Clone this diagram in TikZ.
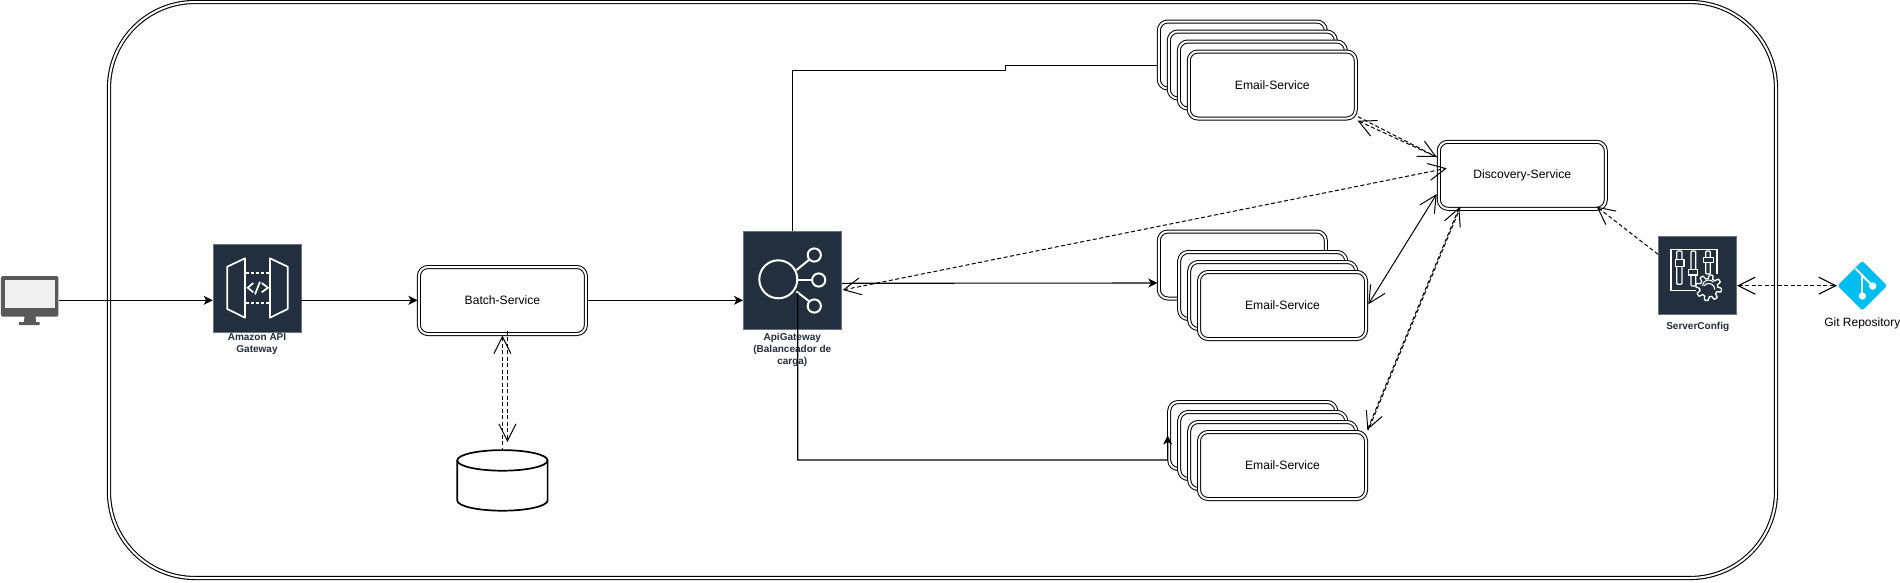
\documentclass[tikz,border=0pt]{standalone}
\usepackage{fontspec}
\setmainfont{Liberation Sans}
\usetikzlibrary{arrows.meta,calc,shapes.geometric}
\definecolor{iconnavy}{RGB}{35,47,62}
\definecolor{iconedge}{RGB}{105,116,128}
\definecolor{gitblue}{RGB}{0,190,242}
\definecolor{screengray}{RGB}{89,89,89}

\def\px{0.02cm}
\tikzset{
  svcbox/.style={draw=black, double, double distance=2*\px, line width=1*\px, fill=white,
    rounded corners=9*\px, minimum width=167*\px, minimum height=67*\px, inner sep=0pt, outer sep=1.5*\px,
    font=\fontsize{6.9}{8.2}\selectfont},
  iconbox/.style={draw=iconedge, line width=0.6*\px, fill=iconnavy, inner sep=0pt},
  iconlabel/.style={text=iconnavy, align=center, inner sep=0pt,
    font=\fontsize{5.7}{6.83}\selectfont\bfseries},
  iconline/.style={draw=white, line width=1.7*\px},
  flow/.style={draw=black, line width=1.1*\px, -{Stealth[length=9*\px,width=9*\px,inset=2.5*\px]}},
  opentip/.tip={Straight Barb[length=17*\px,width=17*\px]},
  openlink/.style={draw=black, line width=1*\px, opentip-opentip},
  dashlink/.style={openlink, dash pattern=on 4*\px off 2.5*\px}
}

\begin{document}
\begin{tikzpicture}[x=\px, y=-\px]

\useasboundingbox (0,0) rectangle (1900,582);
\fill[white] (0,0) rectangle (1900,582);

% ── Outer frame ──────────────────────────────────────────────────────────────
\draw[black, double, double distance=2*\px, line width=1.1*\px, rounded corners=86*\px]
  (109,2) rectangle (1776,578);

% ════════════════════════════════════════════════════════════════════════════
% LEFT SIDE — monitor, API gateway, batch service, store
% ════════════════════════════════════════════════════════════════════════════

% Monitor
\node[fill=screengray, rounded corners=1.5*\px, minimum width=57.5*\px, minimum height=40.5*\px, inner sep=0pt]
  (monitor) at (29.7,296.4) {};
\fill[white!94!black] (5,280) rectangle (54.5,308);
\fill[screengray] (24.5,316) -- (35.5,316) -- (36,322) -- (39.5,322) -- (39.5,325) -- (19,325) -- (19,322) -- (24,322) -- cycle;

% API gateway icon
\node[iconbox, minimum size=88*\px] (apigw) at (257,288) {};
\draw[iconline, line join=round]
  (227.3,266.7) -- (245,258.3) -- (245,317.7) -- (227.3,309) -- cycle;
\draw[iconline, line join=round]
  (287.7,266.7) -- (270,258.3) -- (270,317.7) -- (287.7,309) -- cycle;
\foreach \yy in {272.7,303.3}{
  \draw[iconline, dash pattern=on 3*\px off 2*\px] (246,\yy) -- (269,\yy);
}
\draw[iconline] (253.3,283) -- (247.7,287.7) -- (253.3,292.3);
\draw[iconline] (261.7,283) -- (268,287.7) -- (261.7,292.3);
\draw[iconline] (255,294.3) -- (260,281.7);
\node[iconlabel] (apigwlabel) at (257,344) {Amazon API\\Gateway};

% Batch service and its store
\node[svcbox] (batch) at (502.4,300.5) {Batch-Service};
\node[minimum width=90*\px, minimum height=60.7*\px, inner sep=0pt, outer sep=0pt] (store) at (502.4,480.4) {};
\draw[black, line width=1.7*\px, fill=white]
  (457.2,460.4) -- (457.2,500.4) arc[start angle=180, end angle=0, x radius=45.2, y radius=10.3]
  -- (547.6,460.4) arc[start angle=0, end angle=-180, x radius=45.2, y radius=10.3] -- cycle;
\draw[black, line width=1.7*\px]
  (457.2,460.4) arc[start angle=180, end angle=0, x radius=45.2, y radius=10.3];

% ════════════════════════════════════════════════════════════════════════════
% LOAD BALANCER
% ════════════════════════════════════════════════════════════════════════════
\node[iconbox, minimum size=98*\px] (balancer) at (792.3,280.3) {};
\draw[iconline, line width=2*\px] (778.3,279.3) circle (19);
\draw[iconline, line width=2*\px] (814.3,255) circle (6.6);
\draw[iconline, line width=2*\px] (818.7,280) circle (6.6);
\draw[iconline, line width=2*\px] (814.3,306) circle (6.6);
\draw[iconline, line width=2*\px] (796.5,270) -- (808.8,260);
\draw[iconline, line width=2*\px] (798,280) -- (812,280);
\draw[iconline, line width=2*\px] (796.5,291.5) -- (808.8,301);
\node[iconlabel] (balancerlabel) at (792.3,350) {ApiGateway\\(Balanceador de\\carga)};

% ════════════════════════════════════════════════════════════════════════════
% EMAIL STACKS
% ════════════════════════════════════════════════════════════════════════════
\foreach \i in {0,1,2}{
  \node[svcbox] (mailtop\i) at ({1242.3+10*\i},{55+10*\i}) {};
}
\node[svcbox] (mailtop) at (1272.3,85) {Email-Service};

\node[svcbox] (mailmid0) at (1242.3,265) {};
\node[svcbox] (mailmid1) at (1262.7,285.5) {};
\node[svcbox] (mailmid2) at (1272.7,295.5) {};
\node[svcbox] (mailmid) at (1282.5,305.5) {Email-Service};

\foreach \i in {0,1,2}{
  \node[svcbox] (maillow\i) at ({1252.7+10*\i},{435.5+10*\i}) {};
}
\node[svcbox] (maillow) at (1282.5,465.5) {Email-Service};

% ════════════════════════════════════════════════════════════════════════════
% DISCOVERY, CONFIG, GIT
% ════════════════════════════════════════════════════════════════════════════
\node[svcbox] (discovery) at (1522.3,175.3) {Discovery-Service};

% Config icon
\node[iconbox, minimum size=78.5*\px] (config) at (1697.5,275.3) {};
\draw[iconline, line width=1.3*\px] (1695.7,290.3) -- (1671,290.3) -- (1671,249.3) -- (1717,249.3) -- (1717,274.3);
\draw[iconline, line width=1.3*\px, rounded corners=1*\px] (1676.7,251) rectangle (1682,284.3);
\draw[iconline, line width=1.3*\px, rounded corners=1*\px] (1691,251) rectangle (1695.7,286);
\draw[iconline, line width=1.3*\px, rounded corners=1*\px] (1705.7,251) rectangle (1710.3,274);
\draw[iconline, line width=1.3*\px, fill=iconnavy] (1675.3,259.3) rectangle (1684,266.7);
\draw[iconline, line width=1.3*\px, fill=iconnavy] (1688.3,269.3) rectangle (1697.7,275);
\draw[iconline, line width=1.3*\px, fill=iconnavy] (1703.3,257.3) rectangle (1713.3,262.7);
\draw[iconline, line width=1.3*\px, fill=iconnavy, line join=round]
  plot[samples=97, domain=0:360] ({1708.7+(11+1.9*max(-1,min(1,3*sin(8*\x))))*cos(\x)},{287.7+(11+1.9*max(-1,min(1,3*sin(8*\x))))*sin(\x)}) -- cycle;
\draw[iconline, line width=1.1*\px] (1702.7,286) arc (180:320:6);
\draw[iconline, line width=1.1*\px] (1714.7,289.5) arc (0:-140:6);
\node[iconlabel] (configlabel) at (1697.7,326.7) {ServerConfig};

% Git icon
\node[diamond, fill=gitblue, rounded corners=2.5*\px, minimum size=50*\px, inner sep=0pt] (git) at (1862.3,285.7) {};
\draw[iconline, line width=2*\px] (1855.5,268.5) -- (1872.7,286);
\draw[iconline, line width=2*\px] (1862.3,276) -- (1862.3,296);
\fill[white] (1862.3,296) circle (3.7);
\fill[white] (1872.7,286) circle (3.7);
\node[inner sep=0pt, font=\fontsize{6.83}{8.2}\selectfont] (gitlabel) at (1862.3,323.3) {Git Repository};

% ════════════════════════════════════════════════════════════════════════════
% CONNECTORS
% ════════════════════════════════════════════════════════════════════════════
\coordinate (flowrow) at (0,300.3);
\draw[flow] (monitor.east |- flowrow) -- (apigw.west |- flowrow);
\draw[flow] (apigw.east |- flowrow) -- (batch.west |- flowrow);
\draw[flow] (batch.east |- flowrow) -- (balancer.west |- flowrow);

% Batch <-> store, a pair of dashed lines
\draw[dashlink, opentip-] (batch.south) -- (store.north);
\draw[dashlink, -opentip] ([xshift=5*\px,yshift=5*\px]batch.south) -- ([xshift=5*\px,yshift=8*\px]store.north);

% Balancer -> stacks
\draw[line width=1*\px] (balancer.north) -- (792.3,70) -- (1005.3,70) -- (1005.3,65.3) -- (mailtop0.west |- 0,65.3);
\draw[flow] (842,283.3) -- (mailmid0.west |- 0,283);
\draw[flow] (797.7,293) |- (1167.7,460) -- (maillow0.west);

% Dashed links to discovery
\draw[dashlink] (842.7,290) -- (1446.7,168.3);
\draw[dashlink, -opentip] (1358,116.7) -- (1436.7,157);
\draw[dashlink, opentip-] (1357.7,120.7) -- (1436.7,157);
\draw[openlink] (1368.3,304.3) -- (1436.7,194);
\draw[dashlink] (1367.3,430) -- (1459.3,207.3);
\draw[dashlink, dash phase=3*\px, -] (1368.3,430) -- (1460.3,207.3);
\draw[dashlink, -opentip] (config.west |- 0,254.3) -- (1596.7,206.7);
\draw[dashlink, line width=1.1*\px] (config.east |- git.west) -- (git.west);

\end{tikzpicture}
\end{document}
